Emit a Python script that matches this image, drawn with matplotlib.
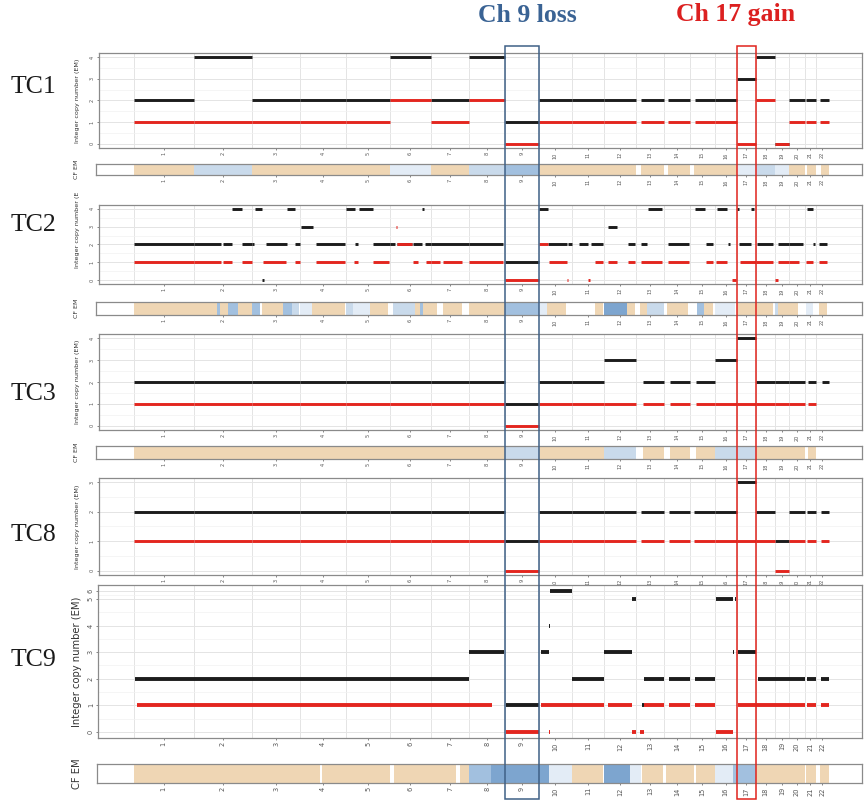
import matplotlib
matplotlib.use("Agg")
import matplotlib.pyplot as plt
from matplotlib.patches import Rectangle
import numpy as np

W, H, DPI = 866, 805, 100

# ---------------- data ----------------
chrom_names = [str(i) for i in range(1, 23)]
chrom_len_mb = [249.25, 243.20, 198.02, 191.15, 180.92, 171.12, 159.14, 146.36,
                141.21, 135.53, 135.01, 133.85, 115.17, 107.35, 102.53, 90.35,
                81.20, 78.08, 59.13, 63.03, 48.13, 51.30]

samples = ["TC1", "TC2", "TC3", "TC8", "TC9"]

# segments: (chromosome, start fraction, end fraction, copy number)
tc1_total = [(1,0,1,2),(2,0,1,4),(3,0,1,2),(4,0,1,2),(5,0,1,2),(6,0,1,4),(7,0,1,2),(8,0,1,4),
             (9,0,1,1),(10,0,1,2),(11,0,1,2),(12,0,1,2),(13,.16,1,2),(14,.14,1,2),(15,.19,1,2),
             (16,0,1,2),(17,0,1,3),(18,0,1,4),(19,0,1,0),(20,0,1,2),(21,.12,1,2),(22,.3,1,2)]
tc1_minor = [(1,0,1,1),(2,0,1,1),(3,0,1,1),(4,0,1,1),(5,0,1,1),(6,0,1,2),(7,0,1,1),(8,0,1,2),
             (9,0,1,0),(10,0,1,1),(11,0,1,1),(12,0,1,1),(13,.16,1,1),(14,.14,1,1),(15,.19,1,1),
             (16,0,1,1),(17,0,1,0),(18,0,1,2),(19,0,1,0),(20,0,1,1),(21,.12,1,1),(22,.3,1,1)]
# cf level: 0 tan, 1 very light blue, 2 light blue, 3 mid blue, 4 dark blue
tc1_cf = [(1,0,1,0),(2,0,1,2),(3,0,1,0),(4,0,1,0),(5,0,1,0),(6,0,1,1),(7,0,1,0),(8,0,1,2),
          (9,0,1,3),(10,0,1,0),(11,0,1,0),(12,0,1,0),(13,.16,1,0),(14,.14,1,0),(15,.17,1,0),
          (16,0,1,0),(17,0,1,1),(18,0,1,2),(19,0,1,1),(20,0,1,0),(21,.2,1,0),(22,.4,1,0)]

tc2_total = [(1,0,1,2),(2,0,.47,2),(2,.50,.66,2),(2,.66,.83,4),(2,.83,1,2),(3,0,.04,2),(3,.06,.2,4),
             (3,.2,.24,0),(3,.29,.73,2),(3,.73,.89,4),(3,.89,1,2),(4,.02,.28,3),(4,.34,.97,2),
             (5,0,.2,4),(5,.2,.27,2),(5,.29,.61,4),(5,.61,1,2),(6,0,.13,2),(6,.18,.54,2),
             (6,.56,.78,2),(6,.78,.83,4),(6,.85,1,2),(7,0,1,2),(8,0,.95,2),(9,0,1,1),
             (10,0,.28,4),(10,.28,.86,2),(10,.89,1,2),(11,.23,.5,2),(11,.59,.96,2),(12,.12,.4,3),
             (12,.73,.95,2),(13,.16,.38,2),(13,.41,.92,4),(14,.14,.95,2),(15,.2,.6,4),
             (15,.64,.92,2),(16,.1,.55,4),(16,.6,.7,2),(17,0,.12,4),(17,.12,.73,2),
             (17,.73,.88,4),(18,.04,.89,2),(19,.2,1,2),(20,0,.9,2),(21,.2,.7,4),(21,.72,.9,2),
             (22,.23,.87,2)]
tc2_minor = [(1,0,1,1),(2,0,.47,1),(2,.50,.66,1),(2,.83,1,1),(3,.22,.71,1),(3,.89,1,1),
             (4,.34,.97,1),(5,.18,.27,1),(5,.61,.98,1),(6,.14,.17,3),(6,.18,.54,2),(6,.56,.68,1),
             (6,.88,1,1),(7,0,.23,1),(7,.31,.81,1),(8,0,.95,1),(9,0,1,0),(10,0,.28,2),
             (10,.31,.86,1),(10,.85,.9,0),(11,.5,.57,0),(11,.72,.96,1),(12,.12,.4,1),
             (12,.73,.95,1),(13,.16,.92,1),(14,.14,.95,1),(15,.64,.92,1),(16,.05,.55,1),
             (16,.8,.98,0),(17,.17,1,1),(18,0,.89,1),(19,0,.2,0),(19,.2,1,1),(20,0,.63,1),
             (21,.12,.72,1),(22,.23,.87,1)]
tc2_cf = [(1,0,1,0),(2,0,.4,0),(2,.4,.45,3),(2,.45,.59,0),(2,.59,.76,3),(2,.76,1,0),(3,0,.16,3),
          (3,.2,.64,0),(3,.64,.83,3),(3,.83,.98,2),(4,0,.26,1),(4,.26,.97,0),(5,0,.16,2),
          (5,.16,.55,1),(5,.55,.95,0),(6,.08,.61,2),(6,.61,.73,0),(6,.73,.8,3),(6,.8,1,0),
          (7,0,.15,0),(7,.31,.8,0),(8,0,1,0),(9,0,1,3),(10,0,.25,1),(10,.25,.83,0),
          (11,.72,.96,0),(12,0,.7,4),(12,.7,.95,0),(13,.13,.38,0),(13,.38,1,2),(14,.1,.92,0),
          (15,.28,.56,3),(15,.56,.92,0),(16,0,.92,1),(17,0,1,0),(18,0,.9,0),(19,0,.2,2),
          (19,.2,1,0),(20,0,.6,0),(21,.1,.75,1),(22,.23,.87,0)]

tc3_total = [(1,0,1,2),(2,0,1,2),(3,0,1,2),(4,0,1,2),(5,0,1,2),(6,0,1,2),(7,0,1,2),(8,0,1,2),
             (9,0,1,1),(10,0,1,2),(11,0,1,2),(12,0,1,3),(13,.23,1,2),(14,.22,1,2),(15,.24,1,2),
             (16,0,1,3),(17,0,1,4),(18,0,1,2),(19,0,1,2),(20,0,1,2),(21,.3,1,2),(22,.47,1,2)]
tc3_minor = [(1,0,1,1),(2,0,1,1),(3,0,1,1),(4,0,1,1),(5,0,1,1),(6,0,1,1),(7,0,1,1),(8,0,1,1),
             (9,0,1,0),(10,0,1,1),(11,0,1,1),(12,0,1,1),(13,.23,1,1),(14,.22,1,1),(15,.24,1,1),
             (16,0,1,1),(17,0,1,1),(18,0,1,1),(19,0,1,1),(20,0,1,1),(21,.3,1,1)]
tc3_cf = [(1,0,1,0),(2,0,1,0),(3,0,1,0),(4,0,1,0),(5,0,1,0),(6,0,1,0),(7,0,1,0),(8,0,1,0),
          (9,0,1,2),(10,0,1,0),(11,0,1,0),(12,0,1,2),(13,.23,1,0),(14,.22,1,0),(15,.24,1,0),
          (16,0,1,2),(17,0,1,2),(18,0,1,0),(19,0,1,0),(20,0,1,0),(21,.3,1,0)]

tc8_total = [(1,0,1,2),(2,0,1,2),(3,0,1,2),(4,0,1,2),(5,0,1,2),(6,0,1,2),(7,0,1,2),(8,0,1,2),
             (9,0,1,1),(10,0,1,2),(11,0,1,2),(12,0,1,2),(13,.16,1,2),(14,.18,1,2),(15,.15,1,2),
             (16,0,1,2),(17,0,1,3),(18,0,1,2),(19,0,1,1),(20,0,1,2),(21,.2,1,2),(22,.4,1,2)]
tc8_minor = [(1,0,1,1),(2,0,1,1),(3,0,1,1),(4,0,1,1),(5,0,1,1),(6,0,1,1),(7,0,1,1),(8,0,1,1),
             (9,0,1,0),(10,0,1,1),(11,0,1,1),(12,0,1,1),(13,.16,1,1),(14,.18,1,1),(15,.15,1,1),
             (16,0,1,1),(17,0,1,1),(18,0,1,1),(19,0,1,0),(20,0,1,1),(21,.2,1,1),(22,.4,1,1)]

tc9_total = [(1,.03,1,2),(2,0,1,2),(3,0,1,2),(4,0,1,2),(5,0,1,2),(6,0,1,2),(7,0,1,2),(8,0,.98,3),
             (9,.03,1,1),(10,.06,.3,3),(10,.3,.34,4),(10,.34,1,6),(11,0,1,2),(12,0,.86,3),
             (12,.86,.98,5),(13,.2,.27,1),(13,.27,1,2),(14,.18,1,2),(15,.2,1,2),(16,.05,.83,5),
             (16,.83,.9,3),(16,.92,.97,5),(17,.07,1,3),(18,.09,1,2),(19,0,1,2),(20,0,1,2),
             (21,.2,1,2),(22,.4,1,2)]
tc9_minor = [(1,.06,1,1),(2,0,1,1),(3,0,1,1),(4,0,1,1),(5,0,1,1),(6,0,1,1),(7,0,1,1),(8,0,.64,1),
             (9,.03,1,0),(10,.06,1,1),(10,.3,.33,0),(11,0,1,1),(12,.12,.86,1),(12,.86,.98,0),
             (13,.12,.27,0),(13,.27,1,1),(14,.2,1,1),(15,.2,1,1),(16,.05,.83,0),(17,.07,1,1),
             (18,0,1,1),(19,0,1,1),(20,0,1,1),(21,.2,1,1),(22,.4,1,1)]
tc9_cf = [(1,0,1,0),(2,0,1,0),(3,0,1,0),(4,0,.44,0),(4,.47,1,0),(5,0,1,0),(6,.1,1,0),(7,0,.65,0),
          (7,.75,1,0),(8,0,.6,3),(8,.6,1,4),(9,0,1,4),(10,0,.3,4),(10,.3,1,1),(11,0,.96,0),
          (12,0,.8,4),(12,.8,1,1),(13,0,.15,1),(13,.2,.95,0),(14,.06,1,0),(15,0,.15,0),
          (15,.23,1,0),(16,0,.83,1),(16,.85,1,3),(17,0,1,3),(18,0,1,0),(19,0,1,0),(20,0,1,0),
          (21,.15,1,0),(22,.3,1,0)]

cf_colors = ["#EFD6B4", "#E3ECF6", "#C9DAEB", "#A2C0DF", "#7DA5CF"]

# ---------------- helpers ----------------
offsets = np.concatenate([[0.0], np.cumsum(chrom_len_mb)])
genome_len = offsets[-1]
centers = offsets[:-1] + np.array(chrom_len_mb) / 2
X0_PX, X1_PX = 133.5, 828.5
MBPP = genome_len / (X1_PX - X0_PX)

BLACK = "#1c1c1c"
RED = "#e3261f"
GRID = "#e4e4e4"
GRID_MIN = "#f1f1f1"
SPINE = "#8a8a8a"
TXT = "#555555"

fig = plt.figure(figsize=(W / DPI, H / DPI), dpi=DPI)
fig.patch.set_facecolor("white")


def px_axes(l, t, r, b):
    ax = fig.add_axes([l / W, 1 - b / H, (r - l) / W, (b - t) / H])
    ax.set_xlim((l - X0_PX) * MBPP, (r - X0_PX) * MBPP)
    return ax


def seg_x(c, f0, f1):
    L = chrom_len_mb[c - 1]
    o = offsets[c - 1]
    return o + f0 * L, o + f1 * L


def style(ax, xfs, yfs=None):
    for s in ax.spines.values():
        s.set_color(SPINE)
        s.set_linewidth(0.9)
    ax.set_xticks(centers)
    ax.set_xticklabels(chrom_names, rotation=90, fontsize=xfs, color=TXT)
    ax.tick_params(axis="x", length=1.5, width=0.5, color=TXT, pad=1.5)
    ax.tick_params(axis="y", length=1.5, width=0.5, color=TXT, pad=1.5)


def cn_panel(rect, total, minor, ymax, lw, ylabel, ylab_fs, xfs, scale=None, ylim=None, ylab_y=None):
    ax = px_axes(*rect)
    if scale is not None:
        ax.set_yscale("function", functions=scale)
    lo, hi = ylim if ylim else (-0.05 * ymax, ymax * 1.05)
    ax.set_ylim(lo, hi)
    for g in offsets[:-1]:
        ax.axvline(g, color=GRID, lw=0.7, zorder=0)
    for v in np.arange(0, ymax + 1):
        ax.axhline(v, color=GRID, lw=0.7, zorder=0)
    for v in np.arange(0.5, ymax, 1.0):
        ax.axhline(v, color=GRID_MIN, lw=0.5, zorder=0)
    for c, f0, f1, v in total:
        x0, x1 = seg_x(c, f0, f1)
        ax.hlines(v, x0, x1, color=BLACK, lw=lw, zorder=3, capstyle="butt")
    for c, f0, f1, v in minor:
        x0, x1 = seg_x(c, f0, f1)
        ax.hlines(v, x0, x1, color=RED, lw=lw, zorder=4, capstyle="butt")
    style(ax, xfs)
    ax.set_yticks(np.arange(0, ymax + 1))
    ax.set_yticklabels([str(int(v)) for v in np.arange(0, ymax + 1)], rotation=90,
                       fontsize=xfs, color=TXT, va="center")
    l, t, r, b = rect
    yc = (t + b) / 2 if ylab_y is None else ylab_y
    fig.text(77 / W, 1 - yc / H, ylabel, rotation=90, fontsize=ylab_fs, color="#333333",
             ha="center", va="center")
    return ax


def cf_panel(rect, cf, xfs, lab_fs):
    ax = px_axes(*rect)
    ax.set_ylim(0, 1)
    for c, f0, f1, lev in cf:
        x0, x1 = seg_x(c, f0, f1)
        ax.bar(x0, 1, width=x1 - x0, bottom=0, align="edge", color=cf_colors[lev],
               edgecolor="none", zorder=2)
    style(ax, xfs)
    ax.set_yticks([])
    l, t, r, b = rect
    fig.text(77 / W, 1 - (t + b) / 2 / H, "CF EM", rotation=90, fontsize=lab_fs,
             color="#333333", ha="center", va="center")
    return ax


def fwd(y):
    y = np.asarray(y, dtype=float)
    return np.where(y <= 5, y, 5 + (y - 5) * 0.3)


def inv(y):
    y = np.asarray(y, dtype=float)
    return np.where(y <= 5, y, 5 + (y - 5) / 0.3)


ax1 = cn_panel((99, 53, 862, 148), tc1_total, tc1_minor, 4, 2.1, "Integer copy number (EM)", 4.6, 3.6)
cf_panel((96, 164, 862, 175), tc1_cf, 3.6, 4.6)
cn_panel((99, 205, 862, 284), tc2_total, tc2_minor, 4, 2.1, "Integer copy number (E", 4.6, 3.6,
         ylab_y=230)
cf_panel((96, 302, 862, 315), tc2_cf, 3.6, 4.6)
cn_panel((99, 334, 862, 430), tc3_total, tc3_minor, 4, 2.1, "Integer copy number (EM)", 4.6, 3.6)
cf_panel((96, 446, 862, 459), tc3_cf, 3.6, 4.6)
cn_panel((99, 478, 862, 575), tc8_total, tc8_minor, 3, 2.1, "Integer copy number (EM)", 4.6, 3.6)
cn_panel((98, 585, 862, 738), tc9_total, tc9_minor, 6, 2.8, "Integer copy number (EM)", 7.2, 4.8,
         scale=(fwd, inv), ylim=(-0.23, 6.77))
cf_panel((97, 764, 862, 783), tc9_cf, 4.8, 7.2)

# sample labels
label_y = [87, 225, 394, 535, 660]
for name, yc in zip(samples, label_y):
    fig.text(33 / W, 1 - yc / H, name, fontsize=18.5, family="Liberation Serif",
             ha="center", va="center", color="#1a1a1a")

# highlight boxes around chr9 and chr17
def chrom_px(c):
    return X0_PX + offsets[c - 1] / MBPP, X0_PX + offsets[c] / MBPP

box_top, box_bot = 46, 799
for c, col, title in [(9, "#3f6086", "Ch 9 loss"), (17, "#e0231d", "Ch 17 gain")]:
    x0, x1 = chrom_px(c)
    fig.add_artist(Rectangle((x0 / W, 1 - box_bot / H), (x1 - x0) / W, (box_bot - box_top) / H,
                             transform=fig.transFigure, fill=False, edgecolor=col, lw=1.1,
                             zorder=10))

fig.text(527.5 / W, 1 - 15 / H, "Ch 9 loss", fontsize=18.5, family="Liberation Serif",
         weight="bold", color="#3a6394", ha="center", va="center")
fig.text(735.5 / W, 1 - 15 / H, "Ch 17 gain", fontsize=18.5, family="Liberation Serif",
         weight="bold", color="#dc2020", ha="center", va="center")

fig.savefig("out.png", dpi=DPI, facecolor="white")
